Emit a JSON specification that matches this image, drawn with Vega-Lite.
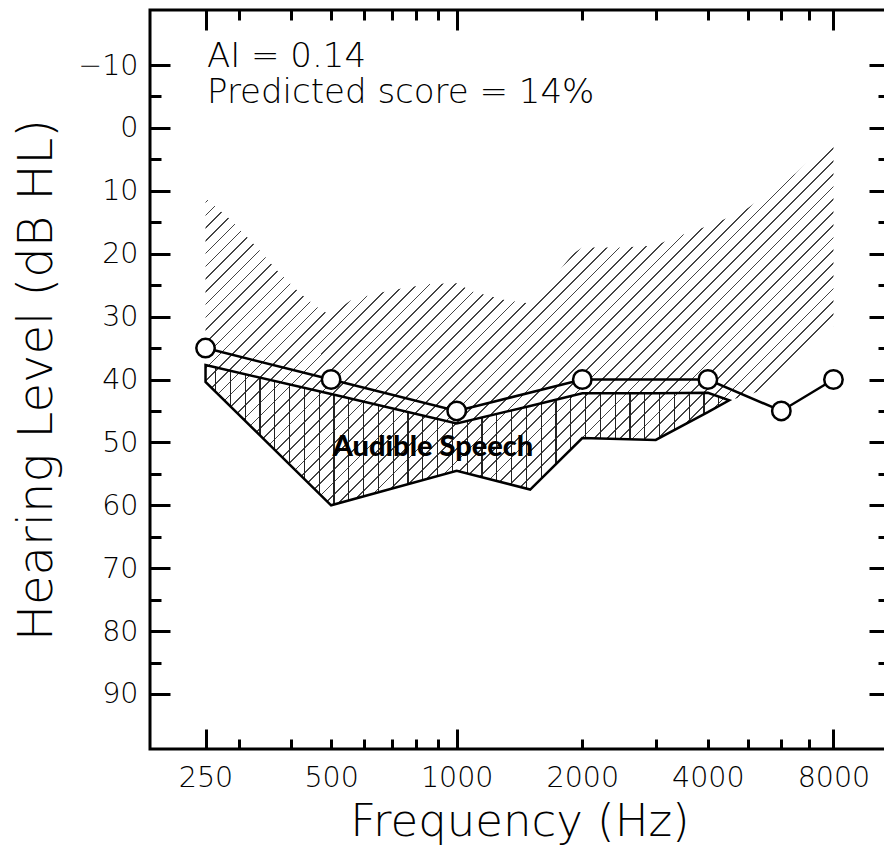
{
"$schema":"https://vega.github.io/schema/vega-lite/v6.json",
"width":739,"height":739,
"autosize":{"type":"none"},
"padding":{"left":150,"top":10,"right":-5,"bottom":103},
"background":"white",
"config":{
 "view":{"stroke":"#000","strokeWidth":3},
 "axis":{"domain":false,"grid":false,"tickColor":"#000","tickWidth":3,"labelColor":"#000","titleColor":"#000","labelFont":"DejaVu Sans","titleFont":"DejaVu Sans","titleFontWeight":200,"labelFontWeight":200,"labelOverlap":false,"labelFlush":false,"labelBound":false}
},
"datasets":{
 "banana":[
  {"freq":250,"top":11.2,"bottom":40.4},
  {"freq":287,"top":14.6,"bottom":44.3},
  {"freq":331,"top":18.9,"bottom":48.3},
  {"freq":370,"top":22.6,"bottom":51.5},
  {"freq":421,"top":26.3,"bottom":55.1},
  {"freq":477,"top":29.2,"bottom":58.7},
  {"freq":500,"top":29.6,"bottom":60},
  {"freq":558,"top":27.4,"bottom":59.1},
  {"freq":645,"top":26.3,"bottom":58},
  {"freq":743,"top":25.5,"bottom":56.9},
  {"freq":862,"top":24.8,"bottom":55.7},
  {"freq":1000,"top":24.7,"bottom":54.5},
  {"freq":1090,"top":26,"bottom":55.1},
  {"freq":1310,"top":27.4,"bottom":56.5},
  {"freq":1500,"top":27.9,"bottom":57.5},
  {"freq":1700,"top":24,"bottom":53.9},
  {"freq":1900,"top":20,"bottom":50.8},
  {"freq":2000,"top":19,"bottom":49.3},
  {"freq":2500,"top":19,"bottom":49.4},
  {"freq":3000,"top":18.7,"bottom":49.6},
  {"freq":3300,"top":17.5,"bottom":48.1},
  {"freq":4000,"top":15.6,"bottom":45.2},
  {"freq":4500,"top":14.2,"bottom":43.3},
  {"freq":5000,"top":12.7,"bottom":42.5},
  {"freq":5550,"top":10.5,"bottom":41.3},
  {"freq":6500,"top":7.2,"bottom":36.8},
  {"freq":7650,"top":2.85,"bottom":32.1},
  {"freq":8000,"top":1.6,"bottom":31.5}
 ],
 "audible":[
  {"freq":250,"top":37.7,"bottom":40.4},
  {"freq":500,"top":42.3,"bottom":60},
  {"freq":1000,"top":47,"bottom":54.5},
  {"freq":1500,"top":44.2,"bottom":57.5},
  {"freq":2000,"top":42.2,"bottom":49.3},
  {"freq":3000,"top":42.2,"bottom":49.6},
  {"freq":4000,"top":42.1,"bottom":45.2},
  {"freq":4500,"top":43.3,"bottom":43.3}
 ],
 "threshold":[
  {"freq":250,"db":35},{"freq":500,"db":40},{"freq":1000,"db":45},{"freq":2000,"db":40},{"freq":4000,"db":40},{"freq":6000,"db":45},{"freq":8000,"db":40}
 ],
 "notes":[
  {"freq":252,"db":-9.73,"label":"AI = 0.14"},
  {"freq":252,"db":-3.92,"label":"Predicted score = 14%"}
 ],
 "region":[{"freq":877,"db":52.2,"label":"Audible Speech"}]
},
"resolve":{"axis":{"x":"independent","y":"independent"}},
"layer":[
 {"data":{"name":"banana"},
  "mark":{"type":"area","opacity":1,"strokeWidth":0,"fill":{"gradient":"linear","x1":0,"y1":0,"x2":1.0085,"y2":0.5899,"stops":[
{"offset":0,"color":"transparent"},{"offset":0,"color":"#444"},{"offset":0.002,"color":"#444"},{"offset":0.002,"color":"transparent"},
{"offset":0.015,"color":"transparent"},{"offset":0.015,"color":"#444"},{"offset":0.017,"color":"#444"},{"offset":0.017,"color":"transparent"},
{"offset":0.03,"color":"transparent"},{"offset":0.03,"color":"#444"},{"offset":0.032,"color":"#444"},{"offset":0.032,"color":"transparent"},
{"offset":0.045,"color":"transparent"},{"offset":0.045,"color":"#444"},{"offset":0.047,"color":"#444"},{"offset":0.047,"color":"transparent"},
{"offset":0.06,"color":"transparent"},{"offset":0.06,"color":"#444"},{"offset":0.062,"color":"#444"},{"offset":0.062,"color":"transparent"},
{"offset":0.075,"color":"transparent"},{"offset":0.075,"color":"#444"},{"offset":0.077,"color":"#444"},{"offset":0.077,"color":"transparent"},
{"offset":0.09,"color":"transparent"},{"offset":0.09,"color":"#444"},{"offset":0.092,"color":"#444"},{"offset":0.092,"color":"transparent"},
{"offset":0.105,"color":"transparent"},{"offset":0.105,"color":"#444"},{"offset":0.107,"color":"#444"},{"offset":0.107,"color":"transparent"},
{"offset":0.12,"color":"transparent"},{"offset":0.12,"color":"#444"},{"offset":0.122,"color":"#444"},{"offset":0.122,"color":"transparent"},
{"offset":0.135,"color":"transparent"},{"offset":0.135,"color":"#444"},{"offset":0.137,"color":"#444"},{"offset":0.137,"color":"transparent"},
{"offset":0.15,"color":"transparent"},{"offset":0.15,"color":"#444"},{"offset":0.152,"color":"#444"},{"offset":0.152,"color":"transparent"},
{"offset":0.165,"color":"transparent"},{"offset":0.165,"color":"#444"},{"offset":0.167,"color":"#444"},{"offset":0.167,"color":"transparent"},
{"offset":0.18,"color":"transparent"},{"offset":0.18,"color":"#444"},{"offset":0.182,"color":"#444"},{"offset":0.182,"color":"transparent"},
{"offset":0.195,"color":"transparent"},{"offset":0.195,"color":"#444"},{"offset":0.197,"color":"#444"},{"offset":0.197,"color":"transparent"},
{"offset":0.21,"color":"transparent"},{"offset":0.21,"color":"#444"},{"offset":0.212,"color":"#444"},{"offset":0.212,"color":"transparent"},
{"offset":0.225,"color":"transparent"},{"offset":0.225,"color":"#444"},{"offset":0.227,"color":"#444"},{"offset":0.227,"color":"transparent"},
{"offset":0.24,"color":"transparent"},{"offset":0.24,"color":"#444"},{"offset":0.242,"color":"#444"},{"offset":0.242,"color":"transparent"},
{"offset":0.255,"color":"transparent"},{"offset":0.255,"color":"#444"},{"offset":0.257,"color":"#444"},{"offset":0.257,"color":"transparent"},
{"offset":0.27,"color":"transparent"},{"offset":0.27,"color":"#444"},{"offset":0.272,"color":"#444"},{"offset":0.272,"color":"transparent"},
{"offset":0.285,"color":"transparent"},{"offset":0.285,"color":"#444"},{"offset":0.287,"color":"#444"},{"offset":0.287,"color":"transparent"},
{"offset":0.3,"color":"transparent"},{"offset":0.3,"color":"#444"},{"offset":0.302,"color":"#444"},{"offset":0.302,"color":"transparent"},
{"offset":0.315,"color":"transparent"},{"offset":0.315,"color":"#444"},{"offset":0.317,"color":"#444"},{"offset":0.317,"color":"transparent"},
{"offset":0.33,"color":"transparent"},{"offset":0.33,"color":"#444"},{"offset":0.332,"color":"#444"},{"offset":0.332,"color":"transparent"},
{"offset":0.345,"color":"transparent"},{"offset":0.345,"color":"#444"},{"offset":0.347,"color":"#444"},{"offset":0.347,"color":"transparent"},
{"offset":0.36,"color":"transparent"},{"offset":0.36,"color":"#444"},{"offset":0.362,"color":"#444"},{"offset":0.362,"color":"transparent"},
{"offset":0.375,"color":"transparent"},{"offset":0.375,"color":"#444"},{"offset":0.377,"color":"#444"},{"offset":0.377,"color":"transparent"},
{"offset":0.39,"color":"transparent"},{"offset":0.39,"color":"#444"},{"offset":0.392,"color":"#444"},{"offset":0.392,"color":"transparent"},
{"offset":0.405,"color":"transparent"},{"offset":0.405,"color":"#444"},{"offset":0.407,"color":"#444"},{"offset":0.407,"color":"transparent"},
{"offset":0.42,"color":"transparent"},{"offset":0.42,"color":"#444"},{"offset":0.422,"color":"#444"},{"offset":0.422,"color":"transparent"},
{"offset":0.435,"color":"transparent"},{"offset":0.435,"color":"#444"},{"offset":0.437,"color":"#444"},{"offset":0.437,"color":"transparent"},
{"offset":0.45,"color":"transparent"},{"offset":0.45,"color":"#444"},{"offset":0.452,"color":"#444"},{"offset":0.452,"color":"transparent"},
{"offset":0.465,"color":"transparent"},{"offset":0.465,"color":"#444"},{"offset":0.467,"color":"#444"},{"offset":0.467,"color":"transparent"},
{"offset":0.48,"color":"transparent"},{"offset":0.48,"color":"#444"},{"offset":0.482,"color":"#444"},{"offset":0.482,"color":"transparent"},
{"offset":0.495,"color":"transparent"},{"offset":0.495,"color":"#444"},{"offset":0.497,"color":"#444"},{"offset":0.497,"color":"transparent"},
{"offset":0.51,"color":"transparent"},{"offset":0.51,"color":"#444"},{"offset":0.512,"color":"#444"},{"offset":0.512,"color":"transparent"},
{"offset":0.525,"color":"transparent"},{"offset":0.525,"color":"#444"},{"offset":0.527,"color":"#444"},{"offset":0.527,"color":"transparent"},
{"offset":0.54,"color":"transparent"},{"offset":0.54,"color":"#444"},{"offset":0.542,"color":"#444"},{"offset":0.542,"color":"transparent"},
{"offset":0.555,"color":"transparent"},{"offset":0.555,"color":"#444"},{"offset":0.557,"color":"#444"},{"offset":0.557,"color":"transparent"},
{"offset":0.57,"color":"transparent"},{"offset":0.57,"color":"#444"},{"offset":0.572,"color":"#444"},{"offset":0.572,"color":"transparent"},
{"offset":0.585,"color":"transparent"},{"offset":0.585,"color":"#444"},{"offset":0.587,"color":"#444"},{"offset":0.587,"color":"transparent"},
{"offset":0.6,"color":"transparent"},{"offset":0.6,"color":"#444"},{"offset":0.602,"color":"#444"},{"offset":0.602,"color":"transparent"},
{"offset":0.615,"color":"transparent"},{"offset":0.615,"color":"#444"},{"offset":0.617,"color":"#444"},{"offset":0.617,"color":"transparent"},
{"offset":0.63,"color":"transparent"},{"offset":0.63,"color":"#444"},{"offset":0.632,"color":"#444"},{"offset":0.632,"color":"transparent"},
{"offset":0.645,"color":"transparent"},{"offset":0.645,"color":"#444"},{"offset":0.647,"color":"#444"},{"offset":0.647,"color":"transparent"},
{"offset":0.66,"color":"transparent"},{"offset":0.66,"color":"#444"},{"offset":0.662,"color":"#444"},{"offset":0.662,"color":"transparent"},
{"offset":0.675,"color":"transparent"},{"offset":0.675,"color":"#444"},{"offset":0.677,"color":"#444"},{"offset":0.677,"color":"transparent"},
{"offset":0.69,"color":"transparent"},{"offset":0.69,"color":"#444"},{"offset":0.692,"color":"#444"},{"offset":0.692,"color":"transparent"},
{"offset":0.705,"color":"transparent"},{"offset":0.705,"color":"#444"},{"offset":0.707,"color":"#444"},{"offset":0.707,"color":"transparent"},
{"offset":0.72,"color":"transparent"},{"offset":0.72,"color":"#444"},{"offset":0.722,"color":"#444"},{"offset":0.722,"color":"transparent"},
{"offset":0.735,"color":"transparent"},{"offset":0.735,"color":"#444"},{"offset":0.737,"color":"#444"},{"offset":0.737,"color":"transparent"},
{"offset":0.75,"color":"transparent"},{"offset":0.75,"color":"#444"},{"offset":0.752,"color":"#444"},{"offset":0.752,"color":"transparent"},
{"offset":0.765,"color":"transparent"},{"offset":0.765,"color":"#444"},{"offset":0.767,"color":"#444"},{"offset":0.767,"color":"transparent"},
{"offset":0.78,"color":"transparent"},{"offset":0.78,"color":"#444"},{"offset":0.782,"color":"#444"},{"offset":0.782,"color":"transparent"},
{"offset":0.795,"color":"transparent"},{"offset":0.795,"color":"#444"},{"offset":0.797,"color":"#444"},{"offset":0.797,"color":"transparent"},
{"offset":0.81,"color":"transparent"},{"offset":0.81,"color":"#444"},{"offset":0.812,"color":"#444"},{"offset":0.812,"color":"transparent"},
{"offset":0.825,"color":"transparent"},{"offset":0.825,"color":"#444"},{"offset":0.827,"color":"#444"},{"offset":0.827,"color":"transparent"},
{"offset":0.84,"color":"transparent"},{"offset":0.84,"color":"#444"},{"offset":0.842,"color":"#444"},{"offset":0.842,"color":"transparent"},
{"offset":0.855,"color":"transparent"},{"offset":0.855,"color":"#444"},{"offset":0.857,"color":"#444"},{"offset":0.857,"color":"transparent"},
{"offset":0.87,"color":"transparent"},{"offset":0.87,"color":"#444"},{"offset":0.872,"color":"#444"},{"offset":0.872,"color":"transparent"},
{"offset":0.885,"color":"transparent"},{"offset":0.885,"color":"#444"},{"offset":0.887,"color":"#444"},{"offset":0.887,"color":"transparent"},
{"offset":0.9,"color":"transparent"},{"offset":0.9,"color":"#444"},{"offset":0.902,"color":"#444"},{"offset":0.902,"color":"transparent"},
{"offset":0.915,"color":"transparent"},{"offset":0.915,"color":"#444"},{"offset":0.917,"color":"#444"},{"offset":0.917,"color":"transparent"},
{"offset":0.93,"color":"transparent"},{"offset":0.93,"color":"#444"},{"offset":0.932,"color":"#444"},{"offset":0.932,"color":"transparent"},
{"offset":0.945,"color":"transparent"},{"offset":0.945,"color":"#444"},{"offset":0.947,"color":"#444"},{"offset":0.947,"color":"transparent"},
{"offset":0.96,"color":"transparent"},{"offset":0.96,"color":"#444"},{"offset":0.962,"color":"#444"},{"offset":0.962,"color":"transparent"},
{"offset":0.975,"color":"transparent"},{"offset":0.975,"color":"#444"},{"offset":0.977,"color":"#444"},{"offset":0.977,"color":"transparent"},
{"offset":0.99,"color":"transparent"},{"offset":0.99,"color":"#444"},{"offset":0.992,"color":"#444"},{"offset":0.992,"color":"transparent"}
  ]}},
  "encoding":{
   "x":{"field":"freq","type":"quantitative","scale":{"type":"log","domain":[184,10870],"nice":false},
        "axis":{"orient":"bottom","values":[250,500,1000,2000,4000,8000],"format":"d","ticks":false,"labelFontSize":28.5,"labelPadding":14,"title":"Frequency (Hz)","titleFontSize":45,"titleBaseline":"alphabetic","titleY":86}},
   "y":{"field":"top","type":"quantitative","scale":{"domain":[-18.75,98.75],"nice":false,"zero":false,"reverse":true},
        "axis":{"orient":"left","values":[-10,0,10,20,30,40,50,60,70,80,90],"format":"d","ticks":false,"labelFontSize":28.5,"labelPadding":12,"title":"Hearing Level (dB HL)","titleFontSize":48,"titleBaseline":"alphabetic","titleX":-99}},
   "y2":{"field":"bottom"}
  }
 },
 {"data":{"name":"audible"},
  "mark":{"type":"area","opacity":1,"stroke":"#000","strokeWidth":2.5,"strokeJoin":"miter","fill":{"gradient":"linear","x1":0,"y1":0,"x2":1,"y2":0,"stops":[
{"offset":0.0181,"color":"transparent"},{"offset":0.0181,"color":"#222"},{"offset":0.0204,"color":"#222"},{"offset":0.0204,"color":"transparent"},
{"offset":0.0464,"color":"transparent"},{"offset":0.0464,"color":"#222"},{"offset":0.0487,"color":"#222"},{"offset":0.0487,"color":"transparent"},
{"offset":0.0746,"color":"transparent"},{"offset":0.0746,"color":"#222"},{"offset":0.0769,"color":"#222"},{"offset":0.0769,"color":"transparent"},
{"offset":0.1029,"color":"transparent"},{"offset":0.1029,"color":"#222"},{"offset":0.1052,"color":"#222"},{"offset":0.1052,"color":"transparent"},
{"offset":0.1311,"color":"transparent"},{"offset":0.1311,"color":"#222"},{"offset":0.1334,"color":"#222"},{"offset":0.1334,"color":"transparent"},
{"offset":0.1594,"color":"transparent"},{"offset":0.1594,"color":"#222"},{"offset":0.1617,"color":"#222"},{"offset":0.1617,"color":"transparent"},
{"offset":0.1877,"color":"transparent"},{"offset":0.1877,"color":"#222"},{"offset":0.19,"color":"#222"},{"offset":0.19,"color":"transparent"},
{"offset":0.2159,"color":"transparent"},{"offset":0.2159,"color":"#222"},{"offset":0.2182,"color":"#222"},{"offset":0.2182,"color":"transparent"},
{"offset":0.2442,"color":"transparent"},{"offset":0.2442,"color":"#222"},{"offset":0.2465,"color":"#222"},{"offset":0.2465,"color":"transparent"},
{"offset":0.2724,"color":"transparent"},{"offset":0.2724,"color":"#222"},{"offset":0.2747,"color":"#222"},{"offset":0.2747,"color":"transparent"},
{"offset":0.3007,"color":"transparent"},{"offset":0.3007,"color":"#222"},{"offset":0.303,"color":"#222"},{"offset":0.303,"color":"transparent"},
{"offset":0.329,"color":"transparent"},{"offset":0.329,"color":"#222"},{"offset":0.3313,"color":"#222"},{"offset":0.3313,"color":"transparent"},
{"offset":0.3572,"color":"transparent"},{"offset":0.3572,"color":"#222"},{"offset":0.3595,"color":"#222"},{"offset":0.3595,"color":"transparent"},
{"offset":0.3855,"color":"transparent"},{"offset":0.3855,"color":"#222"},{"offset":0.3878,"color":"#222"},{"offset":0.3878,"color":"transparent"},
{"offset":0.4137,"color":"transparent"},{"offset":0.4137,"color":"#222"},{"offset":0.416,"color":"#222"},{"offset":0.416,"color":"transparent"},
{"offset":0.442,"color":"transparent"},{"offset":0.442,"color":"#222"},{"offset":0.4443,"color":"#222"},{"offset":0.4443,"color":"transparent"},
{"offset":0.4703,"color":"transparent"},{"offset":0.4703,"color":"#222"},{"offset":0.4726,"color":"#222"},{"offset":0.4726,"color":"transparent"},
{"offset":0.4985,"color":"transparent"},{"offset":0.4985,"color":"#222"},{"offset":0.5008,"color":"#222"},{"offset":0.5008,"color":"transparent"},
{"offset":0.5268,"color":"transparent"},{"offset":0.5268,"color":"#222"},{"offset":0.5291,"color":"#222"},{"offset":0.5291,"color":"transparent"},
{"offset":0.555,"color":"transparent"},{"offset":0.555,"color":"#222"},{"offset":0.5573,"color":"#222"},{"offset":0.5573,"color":"transparent"},
{"offset":0.5833,"color":"transparent"},{"offset":0.5833,"color":"#222"},{"offset":0.5856,"color":"#222"},{"offset":0.5856,"color":"transparent"},
{"offset":0.6116,"color":"transparent"},{"offset":0.6116,"color":"#222"},{"offset":0.6139,"color":"#222"},{"offset":0.6139,"color":"transparent"},
{"offset":0.6398,"color":"transparent"},{"offset":0.6398,"color":"#222"},{"offset":0.6421,"color":"#222"},{"offset":0.6421,"color":"transparent"},
{"offset":0.6681,"color":"transparent"},{"offset":0.6681,"color":"#222"},{"offset":0.6704,"color":"#222"},{"offset":0.6704,"color":"transparent"},
{"offset":0.6963,"color":"transparent"},{"offset":0.6963,"color":"#222"},{"offset":0.6986,"color":"#222"},{"offset":0.6986,"color":"transparent"},
{"offset":0.7246,"color":"transparent"},{"offset":0.7246,"color":"#222"},{"offset":0.7269,"color":"#222"},{"offset":0.7269,"color":"transparent"},
{"offset":0.7529,"color":"transparent"},{"offset":0.7529,"color":"#222"},{"offset":0.7552,"color":"#222"},{"offset":0.7552,"color":"transparent"},
{"offset":0.7811,"color":"transparent"},{"offset":0.7811,"color":"#222"},{"offset":0.7834,"color":"#222"},{"offset":0.7834,"color":"transparent"},
{"offset":0.8094,"color":"transparent"},{"offset":0.8094,"color":"#222"},{"offset":0.8117,"color":"#222"},{"offset":0.8117,"color":"transparent"},
{"offset":0.8376,"color":"transparent"},{"offset":0.8376,"color":"#222"},{"offset":0.8399,"color":"#222"},{"offset":0.8399,"color":"transparent"},
{"offset":0.8659,"color":"transparent"},{"offset":0.8659,"color":"#222"},{"offset":0.8682,"color":"#222"},{"offset":0.8682,"color":"transparent"},
{"offset":0.8942,"color":"transparent"},{"offset":0.8942,"color":"#222"},{"offset":0.8965,"color":"#222"},{"offset":0.8965,"color":"transparent"},
{"offset":0.9224,"color":"transparent"},{"offset":0.9224,"color":"#222"},{"offset":0.9247,"color":"#222"},{"offset":0.9247,"color":"transparent"},
{"offset":0.9507,"color":"transparent"},{"offset":0.9507,"color":"#222"},{"offset":0.953,"color":"#222"},{"offset":0.953,"color":"transparent"},
{"offset":0.9789,"color":"transparent"},{"offset":0.9789,"color":"#222"},{"offset":0.9812,"color":"#222"},{"offset":0.9812,"color":"transparent"}
  ]}},
  "encoding":{
   "x":{"field":"freq","type":"quantitative","scale":{"type":"log","domain":[184,10870],"nice":false},
        "axis":{"orient":"bottom","values":[250,1000,8000],"labels":false,"tickSize":-20,"title":null}},
   "y":{"field":"top","type":"quantitative","scale":{"domain":[-18.75,98.75],"nice":false,"zero":false,"reverse":true},
        "axis":{"orient":"left","values":[-10,0,10,20,30,40,50,60,70,80,90],"labels":false,"tickSize":-20,"title":null}},
   "y2":{"field":"bottom"}
  }
 },
 {"data":{"name":"threshold"},
  "mark":{"type":"line","color":"#000","strokeWidth":2.5},
  "encoding":{
   "x":{"field":"freq","type":"quantitative","scale":{"type":"log","domain":[184,10870],"nice":false},
        "axis":{"orient":"bottom","values":[300,400,500,600,700,800,900,2000,3000,4000,5000,6000,7000],"labels":false,"tickSize":-10,"title":null}},
   "y":{"field":"db","type":"quantitative","scale":{"domain":[-18.75,98.75],"nice":false,"zero":false,"reverse":true},
        "axis":{"orient":"left","values":[-5,5,15,25,35,45,55,65,75,85],"labels":false,"tickSize":-11,"title":null}}
  }
 },
 {"data":{"name":"threshold"},
  "mark":{"type":"point","shape":"circle","filled":true,"fill":"#fff","stroke":"#000","strokeWidth":2.5,"size":340,"opacity":1},
  "encoding":{
   "x":{"field":"freq","type":"quantitative","scale":{"type":"log","domain":[184,10870],"nice":false},
        "axis":{"orient":"top","values":[250,1000,8000],"labels":false,"tickSize":-20,"title":null}},
   "y":{"field":"db","type":"quantitative","scale":{"domain":[-18.75,98.75],"nice":false,"zero":false,"reverse":true},
        "axis":{"orient":"right","values":[-10,0,10,20,30,40,50,60,70,80,90],"labels":false,"tickSize":-20,"title":null}}
  }
 },
 {"data":{"name":"notes"},
  "mark":{"type":"text","font":"DejaVu Sans","fontWeight":200,"fontSize":34,"align":"left","baseline":"alphabetic","color":"#000"},
  "encoding":{
   "x":{"field":"freq","type":"quantitative","scale":{"type":"log","domain":[184,10870],"nice":false},
        "axis":{"orient":"top","values":[300,400,500,600,700,800,900,2000,3000,4000,5000,6000,7000],"labels":false,"tickSize":-10,"title":null}},
   "y":{"field":"db","type":"quantitative","scale":{"domain":[-18.75,98.75],"nice":false,"zero":false,"reverse":true},
        "axis":{"orient":"right","values":[-5,5,15,25,35,45,55,65,75,85],"labels":false,"tickSize":-11,"title":null}},
   "text":{"field":"label"}
  }
 },
 {"data":{"name":"region"},
  "mark":{"type":"text","font":"Lato","fontWeight":900,"fontSize":29,"align":"center","baseline":"alphabetic","color":"#000"},
  "encoding":{
   "x":{"field":"freq","type":"quantitative","scale":{"type":"log","domain":[184,10870],"nice":false},"axis":null},
   "y":{"field":"db","type":"quantitative","scale":{"domain":[-18.75,98.75],"nice":false,"zero":false,"reverse":true},"axis":null},
   "text":{"field":"label"}
  }
 }
]
}
